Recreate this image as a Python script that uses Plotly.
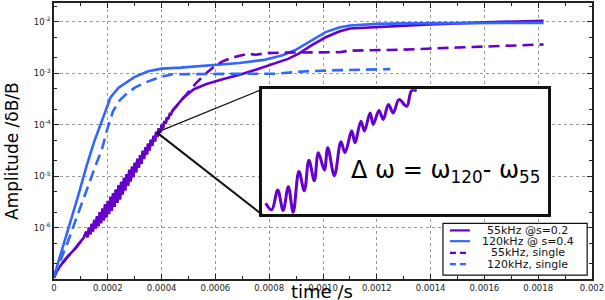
import numpy as np
import plotly.graph_objects as go

# ---------------- data (time in s, amplitude given as log10) ----------------
# shared early growth of the 55 kHz mode (both runs coincide here)
t_55_early = [0, 0.00001, 0.00003, 0.00005, 0.00008, 0.0001, 0.00011,
              0.000120, 0.000125, 0.000130, 0.000135, 0.000140, 0.000145, 0.000150, 0.000155,
              0.000160, 0.000165, 0.000170, 0.000175, 0.000180, 0.000185, 0.000190, 0.000195,
              0.000200, 0.000205, 0.000210, 0.000215, 0.000220, 0.000225, 0.000230, 0.000235,
              0.000240, 0.000245, 0.000250, 0.000255, 0.000260, 0.000265, 0.000270, 0.000275,
              0.000280, 0.000285, 0.000290, 0.000295, 0.000300, 0.000305, 0.000310, 0.000315,
              0.000320, 0.000325, 0.000330, 0.000335, 0.000340, 0.000345, 0.000350, 0.000355,
              0.000360, 0.000365, 0.000370, 0.000375, 0.000380, 0.000385, 0.000390, 0.000395,
              0.000400, 0.000405, 0.000410, 0.000415, 0.000420, 0.000425, 0.000430, 0.000435,
              0.000440]
log_55_early = [-6.97, -6.85, -6.70, -6.57, -6.40, -6.27, -6.20,
                -6.08, -6.19, -6.00, -6.13, -5.93, -6.08, -5.85, -6.02,
                -5.78, -5.97, -5.70, -5.92, -5.63, -5.86, -5.55, -5.80,
                -5.48, -5.74, -5.40, -5.67, -5.33, -5.60, -5.26, -5.52,
                -5.18, -5.45, -5.11, -5.36, -5.03, -5.28, -4.96, -5.19,
                -4.88, -5.10, -4.81, -5.02, -4.74, -4.93, -4.66, -4.84,
                -4.59, -4.76, -4.51, -4.67, -4.44, -4.58, -4.37, -4.50,
                -4.29, -4.41, -4.22, -4.33, -4.14, -4.24, -4.07, -4.16,
                -4.00, -4.07, -3.93, -3.98, -3.86, -3.89, -3.79, -3.80,
                -3.73]

t_55_s02_late = [0.00048, 0.00052, 0.000567, 0.00063, 0.00069, 0.00075, 0.00081,
                 0.00087, 0.00091, 0.00096, 0.00101, 0.00106, 0.0011, 0.0012,
                 0.00129, 0.0014, 0.0016, 0.00182]
log_55_s02_late = [-3.48, -3.31, -3.21, -3.11, -3.03, -2.93, -2.83,
                   -2.72, -2.62, -2.45, -2.30, -2.19, -2.13, -2.10,
                   -2.08, -2.05, -2.01, -1.98]

t_55_single_late = [0.00047, 0.0005, 0.00053, 0.00057, 0.0006, 0.00063, 0.00066,
                    0.00069, 0.00072, 0.00075, 0.00079, 0.00085, 0.00095, 0.00106,
                    0.0011, 0.0013, 0.0015, 0.0017, 0.00182]
log_55_single_late = [-3.55, -3.38, -3.18, -2.98, -2.85, -2.76, -2.70,
                      -2.66, -2.62, -2.64, -2.61, -2.60, -2.60, -2.59,
                      -2.56, -2.54, -2.50, -2.47, -2.44]

t_120_s04 = [0, 0.00001, 0.00003, 0.00006, 0.00009, 0.00012, 0.00015, 0.00018,
             0.00021, 0.00024, 0.00027, 0.0003, 0.00035, 0.0004, 0.00047, 0.00057,
             0.00069, 0.00078, 0.00085, 0.0009, 0.00096, 0.00101, 0.00106, 0.0011,
             0.0012, 0.0013, 0.0015, 0.00182]
log_120_s04 = [-6.95, -6.78, -6.42, -5.90, -5.38, -4.82, -4.32, -3.90,
               -3.47, -3.28, -3.17, -3.07, -2.96, -2.91, -2.89, -2.85,
               -2.80, -2.74, -2.65, -2.54, -2.36, -2.20, -2.11, -2.07,
               -2.04, -2.03, -2.025, -2.02]

t_120_single = [0, 0.00002, 0.00005, 0.00009, 0.000133, 0.00016, 0.000177, 0.0002,
                0.00022, 0.000245, 0.00027, 0.0003, 0.00034, 0.00039, 0.00044,
                0.00057, 0.0007, 0.00082, 0.00094, 0.00106, 0.00125]
log_120_single = [-6.95, -6.70, -6.30, -5.72, -5.08, -4.72, -4.50, -4.05,
                  -3.73, -3.52, -3.40, -3.28, -3.18, -3.08, -3.02,
                  -3.01, -3.01, -3.01, -2.96, -2.94, -2.92]

# zoomed inset: beating of the 55 kHz signal
t_inset = [0.0002913, 0.0002934, 0.0002955, 0.0002974, 0.0002992, 0.0003009,
           0.0003029, 0.0003048, 0.0003064, 0.0003083, 0.0003097, 0.0003118,
           0.000313, 0.0003153, 0.0003176, 0.000319, 0.0003214, 0.0003225,
           0.0003246, 0.0003258, 0.0003278, 0.0003289, 0.0003309, 0.0003324,
           0.0003342, 0.0003359, 0.0003379, 0.0003406, 0.0003423, 0.0003441]
log_inset = [-4.910, -4.963, -4.804, -4.968, -4.778, -4.982,
             -4.656, -4.810, -4.566, -4.730, -4.506, -4.645,
             -4.466, -4.690, -4.418, -4.506, -4.333, -4.426,
             -4.254, -4.333, -4.188, -4.280, -4.169, -4.240,
             -4.121, -4.188, -4.082, -4.135, -4.010, -4.010]

series_names = ["55kHz @s=0.2", "120kHz @ s=0.4", "55kHz, single", "120kHz, single"]
x_tick_vals = [0, 0.0002, 0.0004, 0.0006, 0.0008, 0.0010, 0.0012, 0.0014, 0.0016, 0.0018, 0.002]
x_tick_text = ["0", "0.0002", "0.0004", "0.0006", "0.0008", "0.0010", "0.0012",
               "0.0014", "0.0016", "0.0018", "0.002"]
y_tick_vals = [1e-6, 1e-5, 1e-4, 1e-3, 1e-2]
y_tick_text = ["10<sup>-6</sup>", "10<sup>-5</sup>", "10<sup>-4</sup>",
               "10<sup>-3</sup>", "10<sup>-2</sup>"]

# zoom anchor (point on the curve that the inset magnifies)
zoom_t = 0.000382
zoom_log = -4.15

# ---------------- styling / layout constants ----------------
PURPLE = "#6600cc"
BLUE = "#3366ff"
XR = [0, 0.002]
YR = [-7, -1.634]
INSET_X = [0.3866, 0.9182]
INSET_Y = [0.2338, 0.6871]
FONT = "DejaVu Sans"
DASH = "11px,6px"


def amp(logs):
    return np.power(10.0, np.array(logs))


fig = go.Figure()

t_55_s02 = t_55_early + t_55_s02_late
l_55_s02 = log_55_early + log_55_s02_late
t_55_single = t_55_early + t_55_single_late
l_55_single = log_55_early + log_55_single_late

fig.add_trace(go.Scatter(x=t_55_s02, y=amp(l_55_s02), mode="lines", name=series_names[0],
                         line=dict(color=PURPLE, width=2.6), showlegend=False))
fig.add_trace(go.Scatter(x=t_120_s04, y=amp(log_120_s04), mode="lines", name=series_names[1],
                         line=dict(color=BLUE, width=2.6), showlegend=False))
fig.add_trace(go.Scatter(x=t_55_single, y=amp(l_55_single), mode="lines", name=series_names[2],
                         line=dict(color=PURPLE, width=2.6, dash=DASH), showlegend=False))
fig.add_trace(go.Scatter(x=t_120_single, y=amp(log_120_single), mode="lines", name=series_names[3],
                         line=dict(color=BLUE, width=2.6, dash=DASH), showlegend=False))

# inset
fig.add_trace(go.Scatter(x=t_inset, y=amp(log_inset), mode="lines", xaxis="x2", yaxis="y2",
                         line=dict(color=PURPLE, width=3, shape="spline", smoothing=1.0),
                         showlegend=False))

axis_common = dict(ticks="inside", mirror="allticks", showline=True, linecolor="#222",
                   linewidth=1.5, showgrid=True, gridcolor="#999999", griddash="dot",
                   gridwidth=1, zeroline=False, tickcolor="#222",
                   tickfont=dict(family=FONT, size=8.5, color="#222"))

fig.update_layout(
    width=605, height=300, autosize=False,
    margin=dict(l=54, r=13, t=1, b=21),
    paper_bgcolor="white", plot_bgcolor="white",
    xaxis=dict(range=XR, tickmode="array", tickvals=x_tick_vals, ticktext=x_tick_text,
               ticklen=5, domain=[0, 1],
               minor=dict(tickmode="linear", tick0=0, dtick=0.0001, ticks="inside",
                          ticklen=3, tickcolor="#222", showgrid=False),
               **axis_common),
    yaxis=dict(type="log", range=YR, tickmode="array", tickvals=y_tick_vals,
               ticktext=y_tick_text, ticklen=5, domain=[0, 1],
               minor=dict(ticks="inside", ticklen=3, tickcolor="#222", showgrid=False),
               **axis_common),
    xaxis2=dict(domain=INSET_X, anchor="y2", range=[0.00029, 0.00039], showline=True,
                mirror=True, linecolor="#111", linewidth=2.5, showticklabels=False,
                ticks="", showgrid=False, zeroline=False),
    yaxis2=dict(domain=INSET_Y, anchor="x2", type="log", range=[-5, -4], showline=True,
                mirror=True, linecolor="#111", linewidth=2.5, showticklabels=False,
                ticks="", showgrid=False, zeroline=False),
    showlegend=False,
)

# connector lines from zoom point to inset corners
ax_p = (zoom_t - XR[0]) / (XR[1] - XR[0])
ay_p = (zoom_log - YR[0]) / (YR[1] - YR[0])
fig.add_shape(type="line", xref="paper", yref="paper", x0=ax_p, y0=ay_p,
              x1=INSET_X[0], y1=INSET_Y[1], line=dict(color="#111", width=1.2))
fig.add_shape(type="line", xref="paper", yref="paper", x0=ax_p, y0=ay_p,
              x1=INSET_X[0], y1=INSET_Y[0], line=dict(color="#111", width=2))

# inset text
fig.add_annotation(text="Δ ω = ω<sub>120</sub>- ω<sub>55</sub>", xref="paper", yref="paper",
                   x=0.728, y=0.39, xanchor="center", yanchor="middle", showarrow=False,
                   font=dict(family=FONT, size=24, color="black"))

# axis titles
fig.add_annotation(text="Amplitude /δB/B", xref="paper", yref="paper", x=-0.078, y=0.464,
                   textangle=-90, xanchor="center", yanchor="middle", showarrow=False,
                   font=dict(family=FONT, size=17, color="black"))
fig.add_annotation(text="time /s", xref="paper", yref="paper", x=0.498, y=-0.046,
                   xanchor="center", yanchor="middle", showarrow=False,
                   font=dict(family=FONT, size=18, color="black"))

# legend (drawn manually to match compact spacing)
LEG_BOX = dict(x0=0.723, x1=0.991, y0=0.0144, y1=0.2014)
fig.add_shape(type="rect", xref="paper", yref="paper", **LEG_BOX,
              line=dict(color="#111", width=1.2), fillcolor="white", layer="above")
leg_rows_y = [0.176, 0.137, 0.095, 0.054]
leg_colors = [PURPLE, BLUE, PURPLE, BLUE]
leg_dash = ["solid", "solid", "6px,4px", "6px,4px"]
for name, yy, col, dsh in zip(series_names, leg_rows_y, leg_colors, leg_dash):
    fig.add_shape(type="line", xref="paper", yref="paper", x0=0.736, x1=0.773, y0=yy, y1=yy,
                  line=dict(color=col, width=2.2, dash=dsh), layer="above")
    fig.add_annotation(text=name, xref="paper", yref="paper", x=0.881, y=yy,
                       xanchor="center", yanchor="middle", showarrow=False,
                       font=dict(family=FONT, size=11, color="#111"))

fig.write_html("out.html",
               config={"displayModeBar": False},
               post_script="document.body.style.margin='0px';"
                           "document.body.style.padding='0px';"
                           "document.body.style.overflow='hidden';")
